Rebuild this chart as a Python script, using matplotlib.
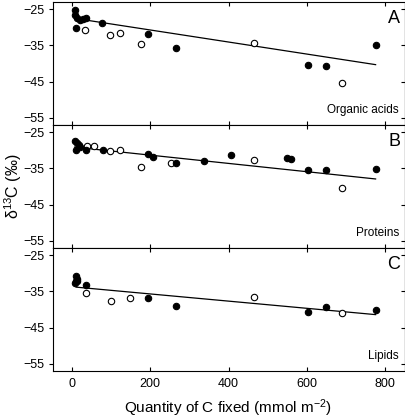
#!/usr/bin/env python
"""
Three stacked panels: d13C of organic acids, proteins and lipids
against the quantity of C fixed.
"""

import matplotlib
matplotlib.use("Agg")
import matplotlib.pyplot as plt

plt.rcParams["font.family"] = ["Liberation Sans", "DejaVu Sans"]
plt.rcParams["mathtext.fontset"] = "custom"
plt.rcParams["mathtext.rm"] = "Liberation Sans"
plt.rcParams["mathtext.default"] = "regular"

# panel names and letters
PANELS = ["Organic acids", "Proteins", "Lipids"]
LETTERS = ["A", "B", "C"]

# organic acids
acid_fill_x = [7, 8, 13, 22, 28, 36, 11, 78, 195, 267, 602, 648, 775]
acid_fill_y = [-25.3, -26.6, -27.3, -28.0, -27.7, -27.3, -30.3, -28.7, -31.7, -35.6, -40.5, -40.7, -34.8]
acid_open_x = [34, 98, 123, 176, 464, 690]
acid_open_y = [-30.6, -32.1, -31.6, -34.7, -34.3, -45.4]
acid_fit_x = [7, 775]
acid_fit_y = [-27.5, -40.3]

# proteins
prot_fill_x = [7, 13, 18, 11, 20, 36, 79, 194, 206, 267, 336, 405, 550, 559, 602, 648, 775]
prot_fill_y = [-27.3, -27.9, -28.4, -30.0, -29.0, -30.0, -30.0, -31.0, -31.8, -33.5, -32.9, -31.4, -32.2, -32.4, -35.4, -35.5, -35.2]
prot_open_x = [38, 57, 98, 123, 177, 252, 464, 690]
prot_open_y = [-28.9, -28.8, -30.2, -29.8, -34.6, -33.6, -32.7, -40.3]
prot_fit_x = [7, 775]
prot_fit_y = [-29.1, -37.9]

# lipids
lip_fill_x = [11, 12, 10, 14, 8, 36, 194, 267, 602, 648, 775]
lip_fill_y = [-30.8, -31.5, -32.2, -32.0, -32.6, -33.3, -36.7, -39.1, -40.7, -39.3, -40.2]
lip_open_x = [35, 99, 148, 464, 690]
lip_open_y = [-35.3, -37.7, -36.7, -36.6, -41.0]
lip_fit_x = [11, 775]
lip_fit_y = [-33.8, -41.4]

X_TICKS = [0, 200, 400, 600, 800]
Y_TICKS = [-25, -35, -45, -55]


def draw_panel(ax, fill_x, fill_y, open_x, open_y, fit_x, fit_y, name, letter, last):

    # regression line and the two sets of points
    ax.plot(fit_x, fit_y, color="black", lw=0.9, zorder=2)
    ax.plot(open_x, open_y, "o", ms=4.6, mfc="white", mec="black", mew=0.8, zorder=3)
    ax.plot(fill_x, fill_y, "o", ms=4.6, mfc="black", mec="black", mew=0.8, zorder=4)

    ax.set_xlim(-48, 850)
    ax.set_ylim(-56.9, -22.9)
    ax.set_xticks(X_TICKS)
    ax.set_yticks(Y_TICKS)
    ax.tick_params(axis="x", direction="in", top=True, length=3, width=0.8,
                   labelbottom=last, labelsize=9, pad=5)
    ax.tick_params(axis="y", direction="out", length=3, width=0.8, labelsize=9, pad=3)

    # inward ticks on the right side
    right = ax.secondary_yaxis("right")
    right.set_yticks(Y_TICKS)
    right.tick_params(direction="in", length=3, width=0.8, labelright=False)

    for spine in ax.spines.values():
        spine.set_linewidth(0.8)

    ax.text(0.986, 0.824, letter, transform=ax.transAxes, ha="right",
            va="baseline", fontsize=13)
    ax.text(0.983, 0.095, name, transform=ax.transAxes, ha="right",
            va="baseline", fontsize=8.5)


fig = plt.figure(figsize=(4.06, 4.18), dpi=100)

left = 53 / 406
width = (405 - 53) / 406
height = 123 / 418
bottom = 1 - 370.7 / 418

data = [
    (acid_fill_x, acid_fill_y, acid_open_x, acid_open_y, acid_fit_x, acid_fit_y),
    (prot_fill_x, prot_fill_y, prot_open_x, prot_open_y, prot_fit_x, prot_fit_y),
    (lip_fill_x, lip_fill_y, lip_open_x, lip_open_y, lip_fit_x, lip_fit_y),
]

for i in range(3):
    ax = fig.add_axes([left, bottom + (2 - i) * height, width, height])
    draw_panel(ax, *data[i], PANELS[i], LETTERS[i], i == 2)

# x label placed by its baseline in figure pixels
fig.text(228 / 406, 1 - 413 / 418, "Quantity of C fixed (mmol m$^{-2}$)",
         ha="center", va="baseline", fontsize=11)

fig.text(13 / 406, 1 - 186 / 418, "δ$^{13}$C (‰)", rotation=90,
         ha="center", va="center", fontsize=11.5)

fig.savefig("out.png", dpi=100)
